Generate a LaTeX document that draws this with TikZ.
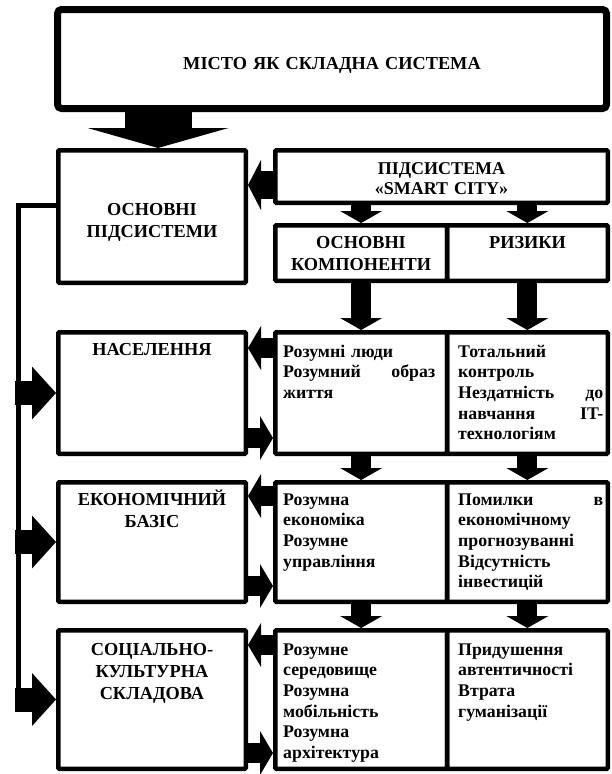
\documentclass[tikz,border=0pt]{standalone}
\usepackage{fontspec}
\setmainfont{Liberation Serif}
\usetikzlibrary{arrows.meta,calc}
\newcommand\hdfont{\fontsize{18.3}{22}\selectfont\bfseries}
\newcommand\bdfont{\fontsize{17.8}{20.7}\selectfont\bfseries}
\begin{document}
\begin{tikzpicture}[x=1pt,y=-1pt,
  box/.style={draw=black,line width=4.5pt,inner sep=0pt,rounded corners=1pt},
  topbox/.style={draw=black,line width=7pt,inner sep=0pt,rounded corners=4pt},
  hd/.style={inner sep=0pt,font=\hdfont,align=center,text width=200pt,anchor=base},
  bd/.style={inner sep=0pt,font=\bdfont,align=left,anchor=base west},
  bigdown/.style={line width=67pt,-{Triangle[width=141pt,length=20pt,line width=0pt]}},
  smalldown/.style={line width=20pt,-{Triangle[width=42pt,length=12pt,line width=0pt]}},
  hsmall/.style={line width=20pt,-{Triangle[width=44pt,length=13pt,line width=0pt]}},
  hmid/.style={line width=28pt,-{Triangle[width=50pt,length=13pt,line width=0pt]}},
  side/.style={line width=24pt,-{Triangle[width=53pt,length=24pt,line width=0pt]}},
  rail/.style={line width=5pt,line join=miter}]
\useasboundingbox[fill=white] (0,0) rectangle (612,774);

% boxes
\node[topbox,minimum width=549pt,minimum height=99pt] (top) at (332,59) {};
\node[box,minimum width=187.5pt,minimum height=132.5pt] (bigL) at (152,216.5) {};
\node[box,minimum width=332.5pt,minimum height=52.5pt] (smart) at (441.5,176.5) {};
\node[box,minimum width=171.75pt,minimum height=55.5pt] (compA) at (361.125,253) {};
\node[box,minimum width=160.75pt,minimum height=55.5pt] (compB) at (527.375,253) {};

\node[box,minimum width=187.5pt,minimum height=121.5pt] (r1L) at (152,393) {};
\node[box,minimum width=171.75pt,minimum height=121.5pt] (r1a) at (361.125,393) {};
\node[box,minimum width=160.75pt,minimum height=121.5pt] (r1b) at (527.375,393) {};

\node[box,minimum width=187.5pt,minimum height=119.5pt] (r2L) at (152,542) {};
\node[box,minimum width=171.75pt,minimum height=119.5pt] (r2a) at (361.125,542) {};
\node[box,minimum width=160.75pt,minimum height=119.5pt] (r2b) at (527.375,542) {};

\node[box,minimum width=187.5pt,minimum height=138.5pt] (r3L) at (152,699.5) {};
\node[box,minimum width=171.75pt,minimum height=138.5pt] (r3a) at (361.125,699.5) {};
\node[box,minimum width=160.75pt,minimum height=138.5pt] (r3b) at (527.375,699.5) {};

% texts
\node[hd,text width=400pt] (ttop) at (332,69) {МІСТО ЯК СКЛАДНА СИСТЕМА};
\node[hd] (tbig) at (152,215) {ОСНОВНІ\\ПІДСИСТЕМИ};
\node[hd,font=\fontsize{18}{20}\selectfont\bfseries] (tsmart) at (441.5,174) {ПІДСИСТЕМА\\«SMART CITY»};
\node[hd,text width=170pt] (tcompA) at (361,248) {ОСНОВНІ\\КОМПОНЕНТИ};
\node[hd,text width=160pt] (tcompB) at (527.5,248) {РИЗИКИ};

\node[hd] (tr1L) at (152,355) {НАСЕЛЕННЯ};
\node[hd] (tr2L) at (152,505) {ЕКОНОМІЧНИЙ\\БАЗІС};
\node[hd] (tr3L) at (152,655) {СОЦІАЛЬНО-\\КУЛЬТУРНА\\СКЛАДОВА};

\node[bd,text width=152pt] (tr1a) at (283,357) {Розумні люди\\Розумний\hfill образ\\життя};
\node[bd,text width=145pt] (tr1b) at (458,357) {Тотальний\\контроль\\Нездатність\hfill до\\навчання\hfill IT-\\технологіям};
\node[bd,text width=152pt] (tr2a) at (283,505) {Розумна\\економіка\\Розумне\\управління};
\node[bd,text width=145pt] (tr2b) at (458,505) {Помилки\hfill в\\економічному\\прогнозуванні\\Відсутність\\інвестицій};
\node[bd,text width=152pt] (tr3a) at (283,655) {Розумне\\середовище\\Розумна\\мобільність\\Розумна\\архітектура};
\node[bd,text width=145pt] (tr3b) at (458,655) {Придушення\\автентичності\\Втрата\\гуманізації};

% connectors
\coordinate (c158) at (158,0);
\coordinate (railx) at (15,0);
\coordinate (railc) at (18,0);

\draw[bigdown] (top.south -| c158) -- (bigL.north -| c158);
\draw[hmid] ($(smart.north west)+(0,37)$) -- ($(bigL.north east)+(0,37)$);
\draw[smalldown] (smart.south -| compA.north) -- (compA.north);
\draw[smalldown] (smart.south -| compB.north) -- (compB.north);
\draw[smalldown] (compA.south) -- (r1a.north);
\draw[smalldown] (compB.south) -- (r1b.north);
\draw[smalldown] (r1a.south) -- (r2a.north);
\draw[smalldown] (r1b.south) -- (r2b.north);
\draw[smalldown] (r2a.south) -- (r3a.north);
\draw[smalldown] (r2b.south) -- (r3b.north);

\draw[hsmall] ($(r1a.north west)+(0,18)$) -- ($(r1L.north east)+(0,18)$);
\draw[hsmall] ($(r1L.south east)+(0,-18)$) -- ($(r1a.south west)+(0,-18)$);
\draw[hsmall] ($(r2a.north west)+(0,16)$) -- ($(r2L.north east)+(0,16)$);
\draw[hsmall] ($(r2L.south east)+(0,-18)$) -- ($(r2a.south west)+(0,-18)$);
\draw[hsmall] ($(r3a.north west)+(0,17)$) -- ($(r3L.north east)+(0,17)$);
\draw[hsmall] ($(r3L.south east)+(0,-18)$) -- ($(r3a.south west)+(0,-18)$);

\draw[rail] ($(bigL.north west)+(0,57.5)$) -| (r3L.west -| railc);
\draw[side] (r1L.west -| railx) -- (r1L.west);
\draw[side] (r2L.west -| railx) -- (r2L.west);
\draw[side] (r3L.west -| railx) -- (r3L.west);
\end{tikzpicture}
\end{document}
